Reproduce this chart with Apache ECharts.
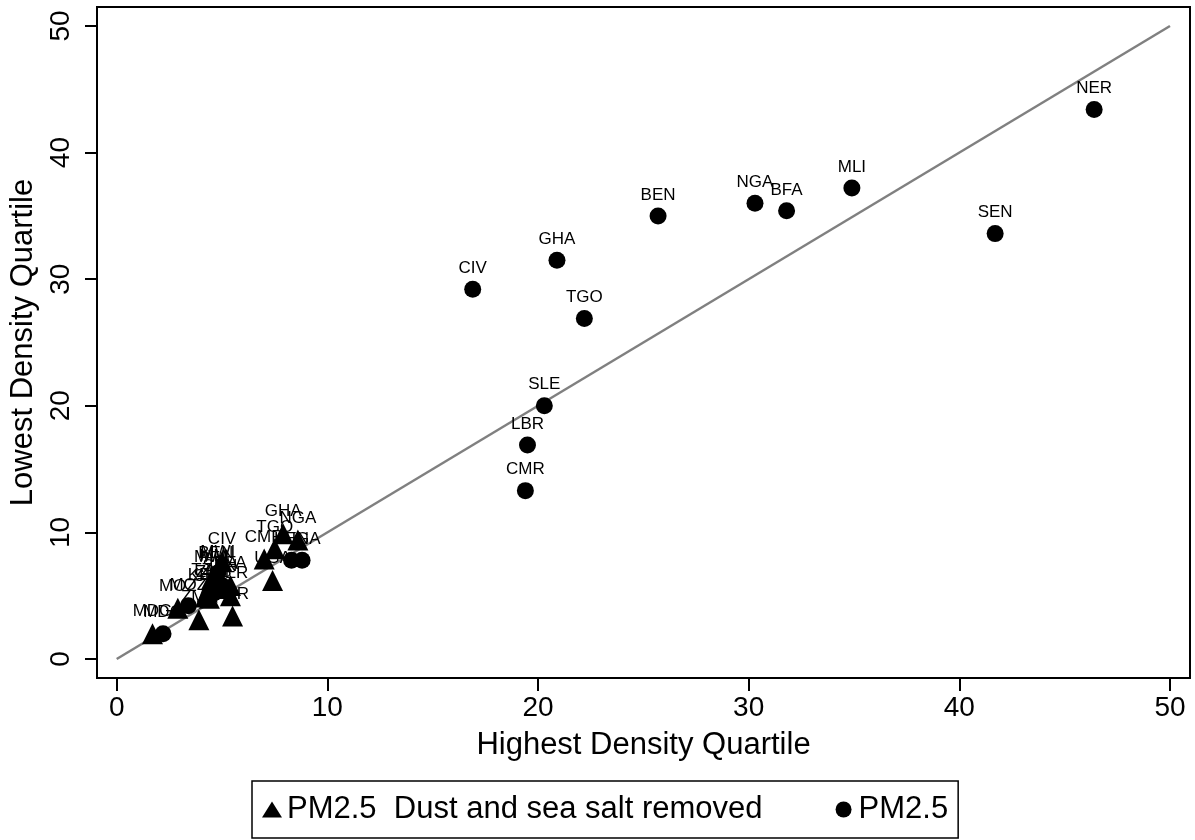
<!DOCTYPE html>
<html>
<head>
<meta charset="utf-8">
<script src="https://cdn.jsdelivr.net/npm/echarts@6/dist/echarts.min.js"></script>
<style>
    html, body { margin: 0; padding: 0; background: #fff; }
    #main { width: 1195px; height: 840px; }
</style>
</head>
<body>
<div id="main"></div>
<script>
// PM2.5 (circles)
var pmNames = ['NER','SEN','MLI','BFA','NGA','BEN','GHA','CIV','TGO','SLE','LBR','CMR','MDG','MOZ','ZMB','TZA','MWI','KEN','UGA'];
var pmHigh  = [46.4, 41.7, 34.9, 31.8, 30.3, 25.7, 20.9, 16.9, 22.2, 20.3, 19.5, 19.4, 2.2, 3.4, 4.6, 5.0, 4.8, 8.3, 8.8];
var pmLow   = [43.4, 33.6, 37.2, 35.4, 36.0, 35.0, 31.5, 29.2, 26.9, 20.0, 16.9, 13.3, 2.0, 4.2, 5.2, 5.8, 6.8, 7.8, 7.8];

// PM2.5 dust and sea salt removed (triangles)
var dustNames = ['MDG','MOZ','ZMB','TZA','MWI','KEN','LBR','NER','SEN','BFA','BEN','MLI','CIV','SLE','UGA','CMR','TGO','GHA','NGA'];
var dustHigh  = [1.7, 2.9, 3.9, 4.3, 4.5, 4.2, 5.5, 5.4, 4.9, 5.4, 4.7, 4.6, 5.0, 4.4, 7.4, 7.0, 7.5, 7.9, 8.6];
var dustLow   = [2.0, 4.0, 3.1, 5.3, 6.3, 4.9, 3.4, 5.0, 5.6, 5.8, 6.6, 6.4, 7.7, 4.8, 6.2, 7.9, 8.7, 9.9, 9.4];

// 45 degree reference line
var refLine = [[0, 0], [50, 50]];
var ticks = [0, 10, 20, 30, 40, 50];

function toPoints(names, xs, ys) {
    return names.map(function (n, i) { return { name: n, value: [xs[i], ys[i]] }; });
}

var font = '"Liberation Sans", Arial, sans-serif';
var chart = echarts.init(document.getElementById('main'));
var option = {
    animation: false,
    textStyle: { fontFamily: font },
    grid: {
        left: 97, top: 7, right: 5, bottom: 162,
        show: true, borderColor: '#000', borderWidth: 2
    },
    xAxis: {
        type: 'value',
        min: -0.935, max: 50.95,
        name: 'Highest Density Quartile',
        nameLocation: 'middle',
        nameGap: 52,
        nameTextStyle: { fontSize: 31, color: '#000' },
        axisLine: { show: true, onZero: false, lineStyle: { color: '#000', width: 2 } },
        axisTick: { show: true, length: 13, customValues: ticks, lineStyle: { color: '#000', width: 2 } },
        axisLabel: { customValues: ticks, fontSize: 28, color: '#000', margin: 16 },
        splitLine: { show: false }
    },
    yAxis: {
        type: 'value',
        min: -1.5, max: 51.5,
        name: 'Lowest Density Quartile',
        nameLocation: 'middle',
        nameGap: 58,
        nameRotate: 90,
        nameTextStyle: { fontSize: 31, color: '#000' },
        axisLine: { show: true, onZero: false, lineStyle: { color: '#000', width: 2 } },
        axisTick: { show: true, length: 12, customValues: ticks, lineStyle: { color: '#000', width: 2 } },
        axisLabel: { customValues: ticks, fontSize: 28, color: '#000', rotate: 90, margin: 22 },
        splitLine: { show: false }
    },
    legend: {
        left: 252, top: 781,
        padding: [13, 10, 13, 10],
        itemGap: 73,
        itemWidth: 20, itemHeight: 16,
        itemTextGap: 16,
        borderColor: '#000', borderWidth: 1.5,
        textStyle: { fontSize: 31, color: '#000' },
        data: [
            { name: 'PM2.5  Dust and sea salt removed', icon: 'triangle' },
            { name: 'PM2.5', icon: 'circle' }
        ]
    },
    series: [
        {
            type: 'line',
            data: refLine,
            symbol: 'none',
            silent: true,
            lineStyle: { color: '#808080', width: 2.5 },
            z: 1
        },
        {
            name: 'PM2.5  Dust and sea salt removed',
            type: 'scatter',
            symbol: 'triangle',
            symbolSize: 21,
            itemStyle: { color: '#000', opacity: 1 },
            data: toPoints(dustNames, dustHigh, dustLow),
            label: {
                show: true, position: 'top', distance: 3,
                formatter: '{b}', fontSize: 17, color: '#000'
            },
            z: 3
        },
        {
            name: 'PM2.5',
            type: 'scatter',
            symbol: 'circle',
            symbolSize: 17,
            itemStyle: { color: '#000', opacity: 1 },
            data: toPoints(pmNames, pmHigh, pmLow),
            label: {
                show: true, position: 'top', distance: 4,
                formatter: '{b}', fontSize: 17, color: '#000'
            },
            z: 3
        }
    ]
};
chart.setOption(option);
window.addEventListener('resize', function () { chart.resize(); });
</script>
</body>
</html>
